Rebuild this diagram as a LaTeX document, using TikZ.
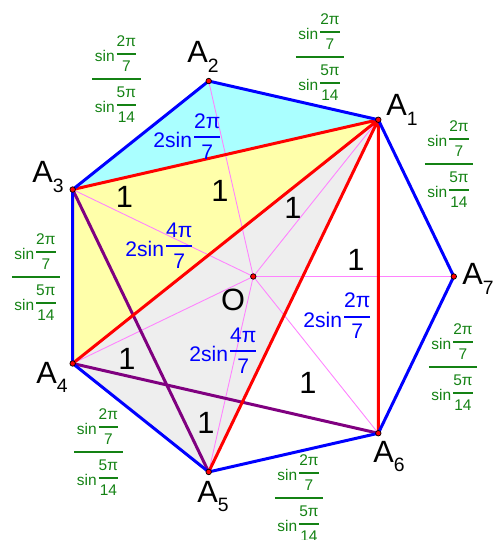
\documentclass[tikz,border=0pt]{standalone}
\usepackage{amsmath}
\usepackage{fontspec}
\setmainfont{Liberation Sans}
\usepackage{xcolor}
\usepackage{tikz}

\definecolor{edgeblue}{RGB}{0,0,255}
\definecolor{chordred}{RGB}{255,0,0}
\definecolor{diagpurple}{RGB}{128,0,128}
\definecolor{spokepink}{RGB}{255,130,255}
\definecolor{cyanfill}{RGB}{170,255,255}
\definecolor{yellowfill}{RGB}{255,255,170}
\definecolor{grayfill}{RGB}{238,238,238}
\definecolor{ratiogreen}{RGB}{20,130,20}

\newcommand{\vx}[1]{A\raisebox{-5.3pt}{\fontsize{11}{12}\selectfont #1}}
\newcommand{\sfrc}[2]{\raisebox{0.25em}{$\genfrac{}{}{1.2pt}{0}{\text{#1}}{\text{#2}}$}}
\newcommand{\sinratio}{$\genfrac{}{}{1.2pt}{0}{\text{\,sin\sfrc{2π}{7}\,}}{\text{\,sin\sfrc{5π}{14}\,}}$}

\begin{document}
\begin{tikzpicture}[
  edge/.style={edgeblue, line width=1.7pt, line join=round},
  chord/.style={chordred, line width=1.7pt},
  diag/.style={diagpurple, line width=1.7pt},
  spoke/.style={spokepink, line width=0.5pt},
  dot/.style={circle, draw=black, fill=red, line width=0.4pt, inner sep=0pt, minimum size=1.1mm},
  vlab/.style={inner sep=0pt, anchor=base west, font=\fontsize{17.5}{20}\selectfont},
  unit/.style={inner sep=0pt, font=\fontsize{17.5}{20}\selectfont},
  len/.style={inner sep=0pt, anchor=base west, text=edgeblue, font=\fontsize{12}{14}\selectfont},
  side/.style={inner sep=0pt, anchor=base, text=ratiogreen, font=\fontsize{8.8}{10}\selectfont},
]
\useasboundingbox (-5.066,-5.27) rectangle (4.814,5.53);
% heptagon
\coordinate (O) at (0,0);
\coordinate (A1) at (51.43:4.01);
\coordinate (A2) at (102.86:4.01);
\coordinate (A3) at (154.29:4.01);
\coordinate (A4) at (205.71:4.01);
\coordinate (A5) at (257.14:4.01);
\coordinate (A6) at (308.57:4.01);
\coordinate (A7) at (0:4.01);
\fill[cyanfill] (A1) -- (A2) -- (A3) -- cycle;
\fill[yellowfill] (A1) -- (A3) -- (A4) -- cycle;
\fill[grayfill] (A1) -- (A4) -- (A5) -- cycle;
\draw[spoke] (O) -- (A1) (O) -- (A2) (O) -- (A3) (O) -- (A4) (O) -- (A5) (O) -- (A6) (O) -- (A7);
\draw[diag] (A3) -- (A5) (A4) -- (A6);
\draw[chord] (A1) -- (A3) (A1) -- (A4) (A1) -- (A5) (A1) -- (A6);
\draw[edge] (A1) -- (A2) -- (A3) -- (A4) -- (A5) -- (A6) -- (A7) -- cycle;
\node[dot] (pO) at (O) {};
\node[dot] (p1) at (A1) {};
\node[dot] (p2) at (A2) {};
\node[dot] (p3) at (A3) {};
\node[dot] (p4) at (A4) {};
\node[dot] (p5) at (A5) {};
\node[dot] (p6) at (A6) {};
\node[dot] (p7) at (A7) {};
% names
\node[vlab] (n1) at (2.654,3.21) {\vx{1}};
\node[vlab] (n2) at (-1.326,4.27) {\vx{2}};
\node[vlab] (n3) at (-4.426,1.87) {\vx{3}};
\node[vlab] (n4) at (-4.346,-2.13) {\vx{4}};
\node[vlab] (n5) at (-1.126,-4.51) {\vx{5}};
\node[vlab] (n6) at (2.394,-3.71) {\vx{6}};
\node[vlab] (n7) at (4.174,-0.17) {\vx{7}};
\node[unit] (nO) at (-0.406,-0.46) {O};
% unit lengths
\node[unit] (u31) at (-2.576,1.59) {1};
\node[unit] (u21) at (-0.666,1.71) {1};
\node[unit] (u11) at (0.794,1.38) {1};
\node[unit] (u71) at (2.054,0.33) {1};
\node[unit] (u41) at (-2.526,-1.65) {1};
\node[unit] (u51) at (-0.946,-2.93) {1};
\node[unit] (u61) at (1.094,-2.13) {1};
% chord lengths
\node[len] (c13) at (-2.006,2.576) {2sin\sfrc{2π}{7}};
\node[len] (c14) at (-2.566,0.396) {2sin\sfrc{4π}{7}};
\node[len] (c15) at (-1.286,-1.704) {2sin\sfrc{4π}{7}};
\node[len] (c16) at (0.994,-1.016) {2sin\sfrc{2π}{7}};
% side ratios
\node[side] (s23) at (-2.736,3.87) {\sinratio};
\node[side] (s12) at (1.334,4.31) {\sinratio};
\node[side] (s17) at (3.914,2.17) {\sinratio};
\node[side] (s76) at (3.994,-1.89) {\sinratio};
\node[side] (s65) at (0.914,-4.51) {\sinratio};
\node[side] (s54) at (-3.096,-3.59) {\sinratio};
\node[side] (s43) at (-4.346,-0.09) {\sinratio};
\end{tikzpicture}
\end{document}
